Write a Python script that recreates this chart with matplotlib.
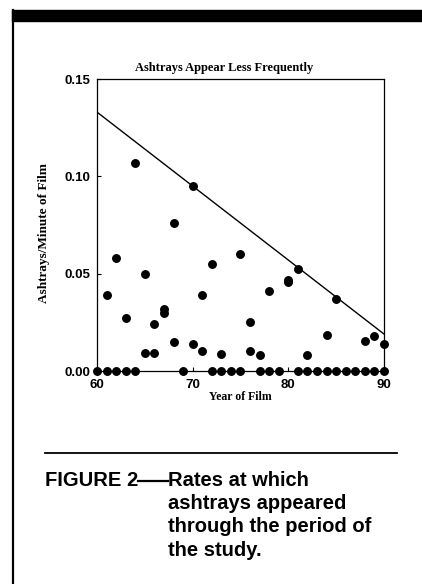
import matplotlib
matplotlib.use("Agg")
import matplotlib.pyplot as plt
from matplotlib.patches import Rectangle
from matplotlib.lines import Line2D

# Films with no ashtray seen (rate = 0)
zero_years = [60, 61, 62, 63, 64, 69, 72, 73, 74, 75, 77, 78, 79,
              81, 82, 83, 84, 85, 86, 87, 88, 89, 90]

# Films with ashtrays (rate > 0)
years = [61, 62, 63, 64, 65, 65, 66, 66, 67, 67, 68, 68, 70, 70, 71, 71,
         72, 73, 75, 76, 76, 77, 78, 80, 80, 81, 82, 84, 85, 88, 89, 90]
rates = [0.039, 0.058, 0.027, 0.107, 0.050, 0.009, 0.024, 0.0095, 0.032, 0.030,
         0.076, 0.015, 0.095, 0.014, 0.039, 0.0105, 0.055, 0.0085, 0.060, 0.025,
         0.0105, 0.008, 0.041, 0.0465, 0.0455, 0.0525, 0.008, 0.0185, 0.037,
         0.0155, 0.018, 0.014]

# Upper bound line
trend_years = [60, 90]
trend_rates = [0.133, 0.019]

x_ticks = [60, 70, 80, 90]
y_ticks = [0.00, 0.05, 0.10, 0.15]

SANS = "Liberation Sans"
SERIF = "Liberation Serif"

fig = plt.figure(figsize=(4.22, 5.84), dpi=100)
ax = fig.add_axes([0.2299, 0.3647, 0.680, 0.500])

ax.plot(trend_years, trend_rates, color="black", linewidth=1.0)
ax.plot(years, rates, "o", color="black", markersize=5.4, clip_on=False)
ax.plot(zero_years, [0] * len(zero_years), "o", color="black",
        markersize=5.4, clip_on=False, zorder=5)

ax.set_xlim(60, 90)
ax.set_ylim(0, 0.15)
ax.set_xticks(x_ticks)
ax.set_yticks(y_ticks)
ax.set_xticklabels([str(t) for t in x_ticks], family=SANS,
                   fontweight="bold", fontsize=9.5)
ax.set_yticklabels([f"{t:.2f}" for t in y_ticks], family=SANS,
                   fontweight="bold", fontsize=9.5)
ax.tick_params(direction="in", length=3, width=0.8)
ax.tick_params(axis="x", pad=6)
ax.tick_params(axis="y", pad=5)
for s in ax.spines.values():
    s.set_linewidth(0.9)

ax.set_title("Ashtrays Appear Less Frequently", family=SERIF,
             fontweight="bold", fontsize=9, x=0.4425, pad=6)
ax.set_xlabel("Year of Film", family=SERIF, fontweight="bold",
              fontsize=8.5, labelpad=0)
ax.set_ylabel("Ashtrays/Minute of Film", family=SERIF, fontweight="bold",
              fontsize=9.5)
ax.yaxis.set_label_coords(-0.164, 0.473)

# page frame: heavy top bar and left rule
W, H = 422, 584
fig.patches.append(Rectangle((12 / W, 1 - 20.5 / H), 1 - 12 / W, 10.5 / H,
                             transform=fig.transFigure, color="black"))
fig.lines.append(Line2D([13.5 / W, 13.5 / W], [0, 1 - 10 / H],
                        transform=fig.transFigure, color="black", linewidth=1.6))

# caption rule
fig.lines.append(Line2D([45 / W, 397 / W], [1 - 453 / H, 1 - 453 / H],
                        transform=fig.transFigure, color="black", linewidth=1.3))

cap_kw = dict(family=SANS, fontweight="bold", fontsize=14.5, va="center")
fig.text(45 / W, 1 - 480 / H, "FIGURE 2", **cap_kw)
# long dash joining the figure number to the caption
fig.lines.append(Line2D([138 / W, 168 / W], [1 - 481 / H, 1 - 481 / H],
                        transform=fig.transFigure, color="black", linewidth=1.6))
caption_lines = ["Rates at which", "ashtrays appeared",
                 "through the period of", "the study."]
for i, line in enumerate(caption_lines):
    fig.text(168 / W, 1 - (480 + 23.4 * i) / H, line, **cap_kw)

fig.savefig("out.png", dpi=100)
